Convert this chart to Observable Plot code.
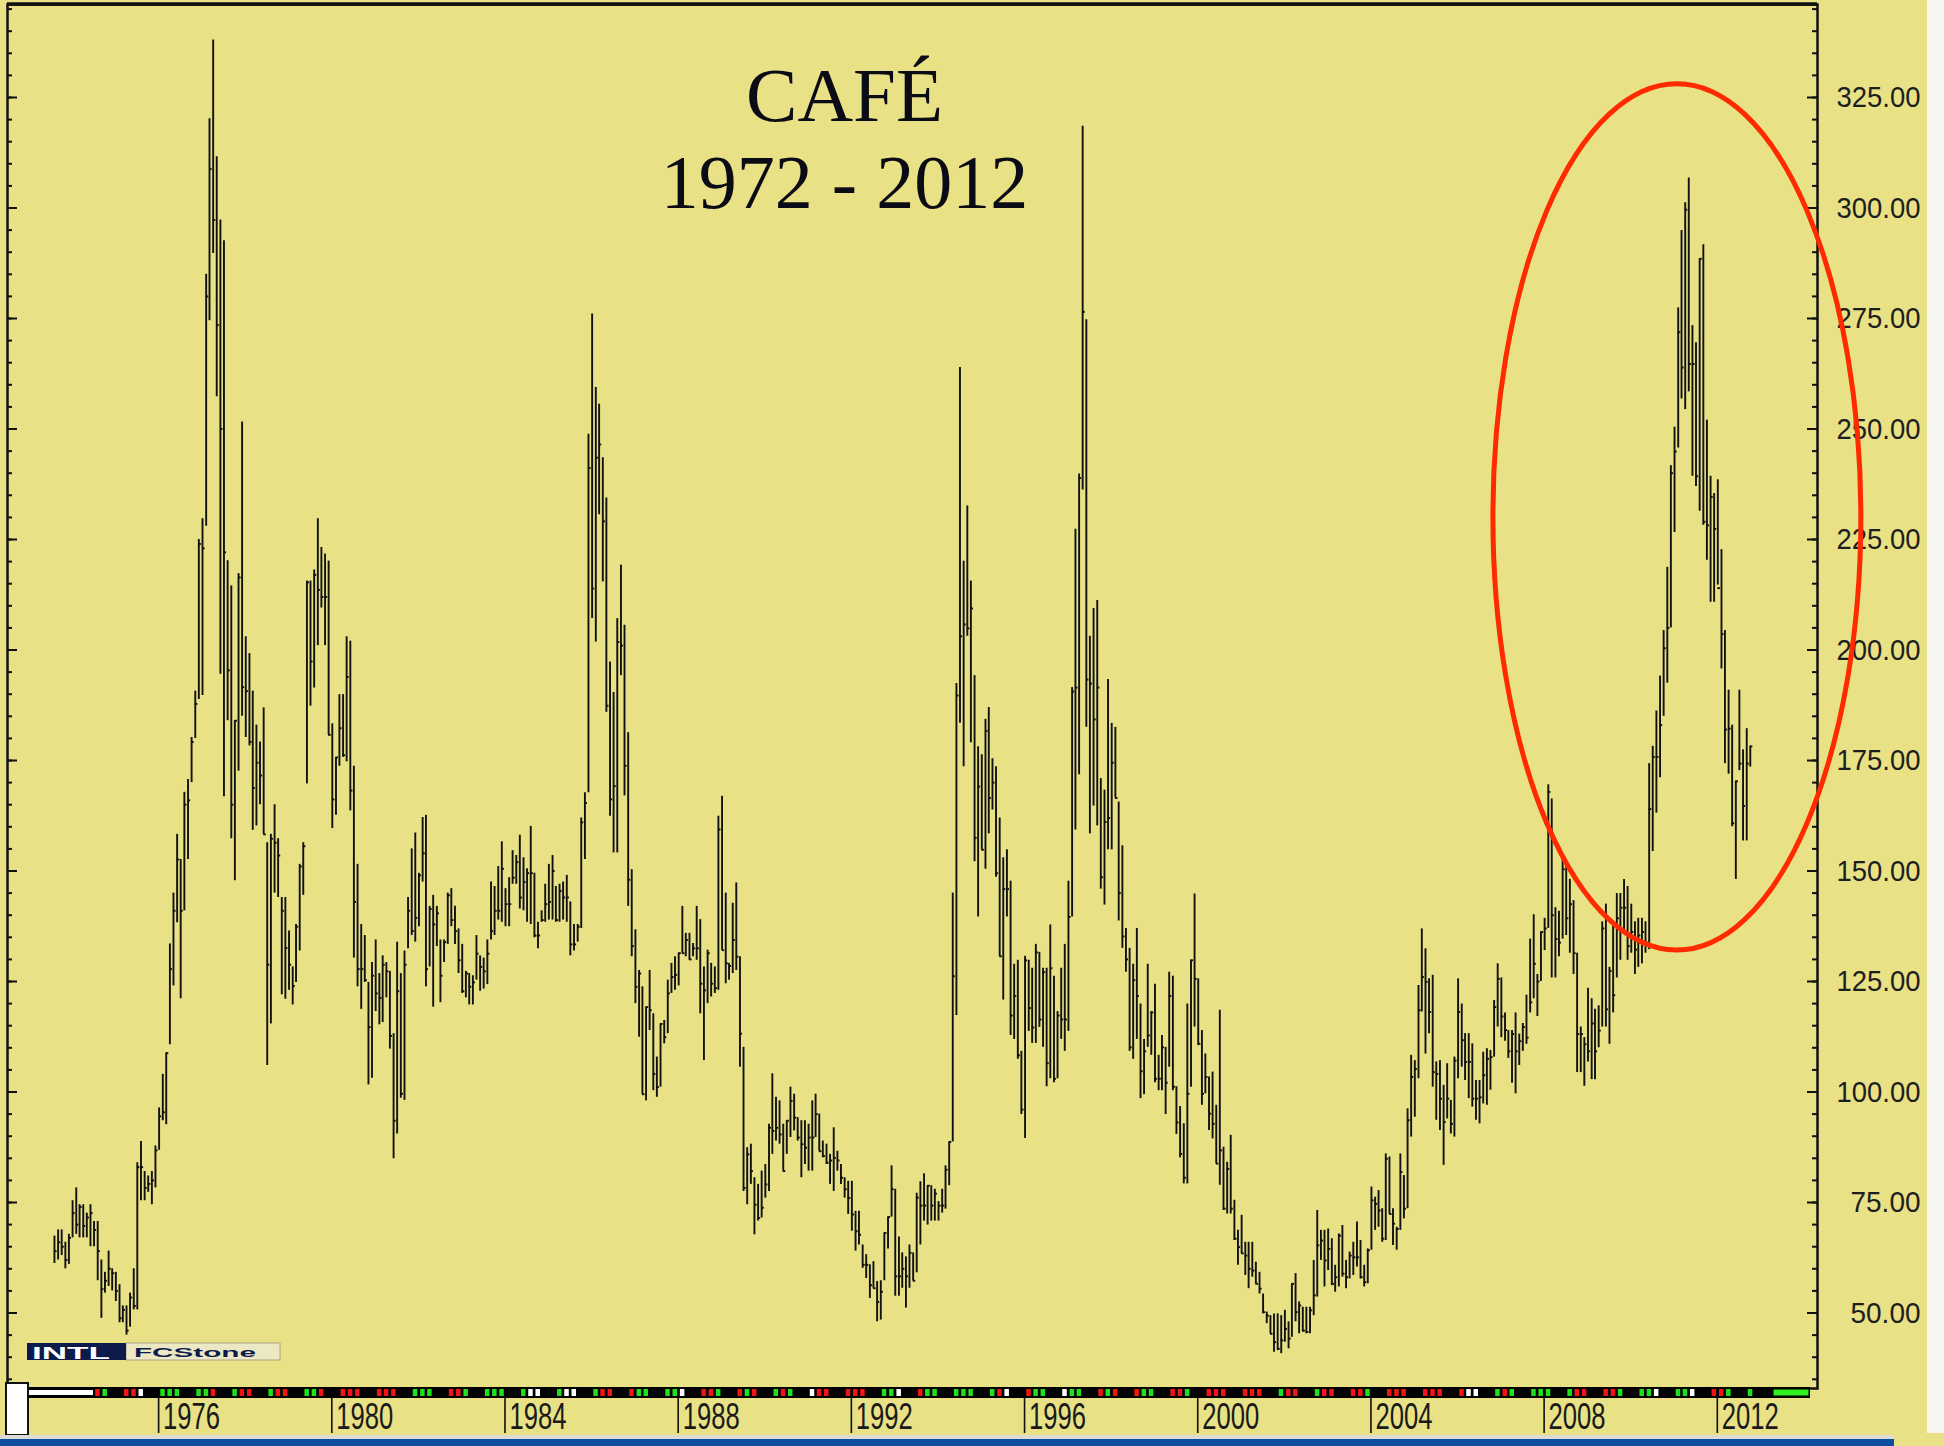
<!DOCTYPE html>
<html>
<head>
<meta charset="utf-8">
<script src="https://cdn.jsdelivr.net/npm/d3@7"></script>
<script src="https://cdn.jsdelivr.net/npm/@observablehq/plot@0.6"></script>
<style>
  html, body { margin: 0; padding: 0; background: #e8e185; }
  #chart { position: relative; width: 1944px; height: 1446px; overflow: hidden; }
</style>
</head>
<body>
<div id="chart"></div>
<script>
// ---- DATA (monthly coffee futures, US cents/lb) ----
const firstMonth = "1973-08";

const high = [
  67.4, 68.8, 68.8, 66, 67.8,
  75.4, 78.3, 74.5, 74.5, 72.6, 74.5, 70.7, 70.7, 62, 59.2, 64, 60,
  59.2, 56.4, 51.6, 51.6, 54.5, 60, 84, 88.8, 82, 81, 82, 87.8,
  96.4, 104, 108.8, 133.5, 145, 158.3, 152.6, 167.8, 170.7, 180.2, 190.7, 225,
  229.7, 285, 320.2, 338, 311.6, 297.3, 292.6, 220.2, 214.5, 184, 217.3, 251.6,
  203, 199.2, 190.7, 183, 179.2, 186.9, 156.4, 158.3, 165, 157.3, 144, 144,
  136.4, 128.3, 137.9, 151.5, 156.4, 215.6, 215.6, 218.1, 229.7, 223.2, 221.7, 220.1,
  183.3, 175.7, 189.9, 189.9, 203, 202, 173.7, 151.5, 137.9, 135.4, 124.8, 129.3,
  134.4, 126.8, 130.8, 129.3, 127.3, 113.2, 133.9, 126.8, 131.9, 144, 155, 158.6,
  149.5, 162.1, 162.6, 142, 144.5, 142, 134.4, 134.4, 145, 146, 142, 136.9,
  133.4, 127.3, 126.8, 126.3, 135.4, 130.8, 130.3, 134.4, 147.5, 146.5, 151, 156.6,
  146, 148.5, 154.6, 153.5, 158.1, 153, 150.5, 160.1, 149.5, 138.4, 141, 147,
  151.5, 153.5, 146.5, 147, 147.5, 149, 143, 137.9, 137.9, 162, 167.7, 248.8,
  276, 259.4, 255.6, 243.5, 234.4, 197.3, 190.4, 207.1, 219.2, 205.6, 181.3, 150.3,
  136.7, 127.5, 123.8, 119.2, 127.5, 117.7, 107.9, 115.4, 116.2, 125.3, 129.1, 130.6,
  131.4, 142, 135.9, 135.9, 133.6, 142, 139, 128.3, 132.1, 129.1, 128.3, 162.4,
  166.9, 145, 129.1, 142.7, 147.3, 130.6, 110.1, 87.4, 88.2, 80.6, 79.1, 82.1,
  83.6, 92.7, 104.1, 98.8, 98, 92.7, 93.5, 101.1, 99.5, 94.2, 93.5, 93.5,
  92.7, 98, 99.5, 95, 88.9, 88.2, 85.9, 91.9, 86.6, 83.6, 80.6, 79.8,
  79.8, 73, 73, 65.4, 63.2, 60.9, 61.6, 57.1, 57.3, 68.1, 71.7, 83.3,
  78, 67.2, 63.6, 62.7, 65.4, 63.6, 77.1, 79.7, 81.5, 78.8, 78.8, 78,
  75.2, 78, 83.3, 88.7, 145, 192.4, 263.9, 220.1, 232.6, 215.6, 194.2, 178.1,
  176.3, 184.3, 187, 175.4, 173.6, 162, 153, 154.8, 147.7, 128.9, 129.8, 109.2,
  130.7, 129.8, 128, 133.4, 131.6, 128, 128, 137.8, 126.2, 118.2, 128, 133.4,
  147.7, 191.5, 227.3, 239.8, 318.5, 274.7, 203.1, 209.4, 211.2, 170.9, 168.3, 193.3,
  183.4, 182.5, 165.6, 155.7, 137, 132.5, 128.9, 137, 119.9, 111.9, 128.9, 118.2,
  124.4, 108.3, 112.8, 110.1, 127.1, 126.2, 101.2, 96.7, 92.8, 119.9, 129.8, 144.8,
  125.6, 113.9, 108.6, 103.4, 104.5, 97, 118.5, 87.5, 84.1, 90.2, 75.5, 68.7,
  72.1, 66, 66, 66, 61.5, 59.2, 54.3, 50.2, 49.4, 49.8, 49.8, 49.4,
  50.6, 48, 56.6, 58.9, 52.5, 51.3, 51.3, 51.3, 61.9, 73.2, 68.7, 68.7,
  69, 66.8, 60.8, 67.9, 69.8, 61.9, 63.8, 66, 70.6, 66.4, 60.8, 64.5,
  78.5, 76.2, 77.7, 73.6, 86, 85.3, 73.6, 69.4, 86, 81.1, 96.2, 108.3,
  107.1, 124.1, 136.9, 132.4, 125.6, 126.4, 106.8, 107.1, 101.5, 106.4, 98.1, 107.9,
  125.6, 119.9, 113.2, 113.2, 110.9, 102.6, 102.6, 109, 109.8, 109.4, 120.7, 129,
  125.8, 117.9, 113.9, 113.9, 117.9, 113.1, 115.5, 121.9, 134.6, 140.1, 126.6, 136.2,
  139.3, 169.5, 166.3, 141.7, 140.9, 153.6, 152, 148.1, 143.3, 131.4, 114.7, 112.3,
  123.5, 121.1, 118.7, 119.5, 138.5, 142.5, 128.2, 137.7, 144.9, 144.9, 148.1, 146.5,
  142.5, 138.5, 139.3, 139.3, 138.5, 174.3, 178.2, 186.2, 194.1, 204.4, 218.7, 241.7,
  250.4, 277.4, 294.9, 301.2, 306.8, 273.4, 269.5, 288.5, 291.7, 252, 239.3, 235.4,
  238.5, 222.7, 204.4, 190.9, 183, 170.3, 190.9, 177.4, 182.2, 178.2
];

const low = [
  61.2, 62, 63, 60, 61,
  67, 67.8, 67, 67, 67, 65, 65, 57.3, 48.8, 54.5, 56, 55,
  52.6, 47.8, 47.8, 45, 46.8, 50.7, 50.7, 75.4, 75.4, 77.3, 74.5, 78.3,
  86.8, 93.5, 92.6, 110.7, 124, 138.3, 121.1, 141, 152.6, 170, 180, 188.8,
  189.7, 228, 274.5, 289.7, 257.3, 194.5, 166.8, 184, 157.3, 147.8, 172.6, 185,
  180.2, 178.3, 159.2, 160.2, 165, 158.3, 106, 115.4, 145, 144, 122, 121,
  123, 119.7, 124.8, 131.9, 144.5, 169.7, 187.3, 191.4, 201, 209.5, 201, 180.8,
  159.6, 162.6, 173.7, 175.7, 174.7, 163.6, 130.3, 123.8, 118.7, 124.8, 101.6, 103.1,
  118.2, 115.2, 115.7, 121.3, 109.7, 84.9, 90.5, 98.6, 98.1, 132.4, 135.4, 133.9,
  137.4, 147.5, 123.8, 128.3, 119.2, 132.9, 120.2, 129.3, 133.4, 137.4, 133.4, 126.8,
  122.3, 121.3, 119.7, 119.7, 125.3, 122.8, 123.3, 124.3, 134.4, 135.4, 138.9, 138.4,
  137.4, 137.4, 147, 147, 141.4, 141, 138.4, 137.9, 134.9, 132.4, 138.4, 138.4,
  138.9, 138.9, 138.4, 138.4, 138.9, 138.4, 130.8, 131.9, 133.9, 137, 152.6, 167.7,
  207.1, 201.8, 230.6, 215.4, 185.9, 162.4, 154.1, 154.1, 194.2, 167, 142, 130.6,
  120, 112.4, 99.5, 98, 113.9, 100.3, 98.8, 101.1, 110.9, 113.2, 122.3, 123,
  124, 131.4, 130.6, 129.8, 130.6, 129.8, 117.7, 107.1, 120, 121.5, 122.3, 123,
  132.1, 124.5, 125.3, 126.8, 127.5, 105.6, 77.5, 74.5, 79.1, 67.7, 70.8, 71.5,
  76, 77.5, 85.9, 88.9, 88.2, 82.1, 85.9, 89.7, 91.2, 88.9, 80.6, 83.6,
  82.1, 82.1, 89.7, 86.6, 85.1, 83.6, 79.1, 77.5, 82.1, 79.1, 76, 72.3,
  68.5, 64, 65.4, 60.1, 57.8, 53.3, 55.6, 48, 48.4, 57.3, 64.5, 71.7,
  53.8, 53.8, 55.6, 51.1, 55.6, 57.3, 59.1, 65.4, 70.8, 69.9, 70.8, 70.8,
  70.8, 72.6, 73.5, 78.8, 88.7, 117.3, 183.4, 173.6, 203.1, 179, 152.1, 139.6,
  154.8, 150.4, 158.4, 163.8, 148.6, 130.7, 120.8, 139.6, 112.8, 111.9, 107.4, 94.9,
  89.5, 113.7, 111, 111, 114.6, 110.1, 101.2, 103, 102.1, 103, 111.9, 109.2,
  113.7, 139.6, 159.3, 171.8, 236.2, 182.5, 158.4, 164.7, 160.2, 145.9, 142.3, 154.8,
  154.8, 166.5, 138.7, 132.5, 127.1, 109.2, 107.4, 111.9, 98.5, 99.4, 110.1, 108.3,
  102.1, 100.3, 100.3, 94.9, 105.6, 100.3, 90.4, 85.1, 79.2, 79.2, 101.1, 114.7,
  110.5, 97, 99.6, 91.3, 89.4, 83.8, 78.9, 73.2, 72.4, 72.4, 66.4, 60.8,
  63.4, 58.5, 55.5, 58.1, 56.6, 54.3, 49.8, 47.6, 45.3, 41.1, 41.5, 40.8,
  43.4, 41.9, 44.5, 48, 45.3, 45.7, 45.3, 45.3, 49.4, 53.6, 61.9, 55.9,
  59.6, 56.2, 54.7, 55.9, 58.1, 55.5, 57.7, 58.5, 60.4, 57.7, 55.9, 56.6,
  64.2, 68.7, 69.4, 66, 66.4, 72.4, 65.3, 64.2, 68.7, 71.3, 73.6, 89.8,
  94.3, 103, 118.1, 108.6, 113.2, 101.1, 93.6, 91.3, 83.4, 93.9, 90.5, 89.8,
  103, 105.6, 102.6, 98.5, 96.6, 93.6, 92.8, 97.3, 97, 100.4, 107.9, 114.7,
  112.3, 111.5, 107.6, 102, 99.6, 106, 109.2, 110.8, 117.9, 121.1, 117.1, 125,
  132, 137, 125.8, 125.8, 130.6, 134.6, 135.4, 131.4, 126.6, 104.4, 104.4, 101.3,
  106.8, 102.8, 102.8, 110, 114.7, 114.7, 110.8, 117.9, 125.8, 129.8, 136.2, 129.8,
  131.4, 126.6, 128.2, 129, 131.4, 132.2, 154.4, 163.1, 171.1, 185, 192.5, 205,
  226.6, 245.7, 256.8, 254.4, 258.4, 239.3, 237, 231.4, 228.2, 220.3, 210.8, 210.8,
  214.7, 195.7, 174.3, 171.9, 160, 148.1, 172.7, 156.8, 156.8, 173.5
];

const close = [
  64, 66, 65, 62, 67,
  72.6, 70, 74, 69.7, 71.6, 72.6, 68.8, 64, 55.4, 57.3, 60, 59,
  55, 48.8, 50.7, 46, 53.5, 51.6, 83, 83, 78.3, 79.2, 80, 86.8,
  94.5, 95.4, 108.8, 127.8, 141, 152.6, 141, 165, 166, 179.2, 187.8, 224,
  223, 280, 308.8, 297.3, 273.5, 250, 222.1, 195.4, 165, 184, 216.4, 191.6,
  190.7, 179.2, 168.8, 174.5, 171.6, 158.3, 128.8, 157.3, 156.4, 153.5, 141, 132.6,
  128.8, 124, 137.4, 151, 155.6, 215.3, 197.4, 217, 213.6, 212, 212, 180.8,
  166.2, 175.7, 182.3, 176.2, 193.9, 168.2, 143, 127.8, 127.8, 125.3, 114.7, 126.3,
  122.3, 121.3, 128.8, 127.3, 112.7, 93.5, 122.8, 99.6, 128.8, 141, 136.4, 139.4,
  149, 154, 127.8, 141.4, 137.9, 140.4, 126.3, 133.9, 144.5, 138.9, 136.4, 129.8,
  122.8, 126.8, 123.8, 124.8, 131.3, 128.3, 127.3, 131.3, 136.4, 141, 141, 150.5,
  142.5, 142.5, 148.5, 152, 144, 147.5, 149.5, 149.5, 135.4, 135.4, 138.9, 142.5,
  143, 150, 138.9, 145.5, 144, 144, 133.4, 133.4, 137.4, 161, 165.4, 241.2,
  213.9, 243.5, 246.5, 229.1, 187.4, 166.2, 169.2, 201.8, 201, 173.8, 148, 133,
  123.8, 126.8, 99.5, 119.2, 118.5, 104.1, 101.1, 115.4, 112.4, 122.3, 126, 126.5,
  131.4, 131.4, 134.4, 130, 132.5, 132.5, 124.5, 123, 131.4, 124.5, 123.5, 159.4,
  132.1, 129.1, 128.5, 134.4, 130.6, 113.2, 78.3, 85.9, 82.1, 74.5, 71.5, 73.8,
  79.1, 91.9, 91.2, 91.9, 90.4, 82.1, 93.5, 98, 94.2, 89.7, 88.2, 87.4,
  89.7, 89.7, 95, 86.6, 85.5, 84, 84.5, 85.1, 84.5, 80.6, 78, 76,
  72.3, 68.5, 67.7, 60.9, 60.9, 56.3, 55.6, 52.5, 54.8, 68.1, 71.7, 78,
  58.3, 58.3, 60, 58.3, 63.6, 57.3, 76.1, 74.3, 74.3, 78.8, 74.3, 77,
  74.3, 74.3, 82.4, 88.7, 126.2, 189.7, 203.1, 205.8, 204.9, 209.4, 157.5, 169.1,
  154.8, 181.7, 166.5, 170, 149.5, 130.7, 145.9, 145.9, 117.3, 121.7, 108.3, 96,
  129.8, 119, 114.6, 131.6, 116.4, 127.1, 106.5, 128, 103, 117.3, 116.4, 116.4,
  139.6, 190.6, 191.5, 238.9, 276.5, 193.3, 192.4, 184.3, 191.5, 148.6, 161.1, 162,
  174.5, 166.5, 145, 135.2, 130, 110.1, 125.3, 121.7, 104.7, 109.2, 112.8, 118,
  103, 103, 110.1, 102.1, 121.7, 101.2, 93.1, 86, 80.6, 99.6, 129.8, 125.6,
  110.9, 99.6, 103.4, 95.1, 92.8, 83.8, 86.8, 73.6, 82.6, 73.6, 66.8, 64.9,
  63.5, 63, 60, 59.6, 56.6, 55.5, 50.2, 49.4, 45.3, 43.4, 41.9, 43.8,
  46.4, 44.2, 56.6, 50.2, 51.7, 46, 45.7, 50.6, 54, 65.3, 66.4, 61.9,
  64.5, 56.6, 58.1, 67.5, 58.9, 58.1, 63, 62.6, 62.6, 58.1, 57, 64.2,
  75.5, 74.7, 73.2, 66.8, 84.9, 72.4, 70.2, 69, 81.9, 73.6, 93.6, 103.4,
  105.2, 118.5, 126, 124.9, 118.1, 104.5, 104.1, 98.5, 93.2, 98.5, 92.8, 107.1,
  118.1, 111.7, 106.8, 106.8, 98.5, 98.5, 98.8, 103.8, 107.5, 107.9, 119.2, 125.6,
  117.1, 114, 109.2, 113.1, 109.2, 111.5, 114.7, 112.3, 120.3, 129, 125, 136.2,
  137, 167.9, 140, 134.6, 133.8, 150.4, 139.3, 142.5, 131.4, 113.1, 113.1, 110.8,
  109.2, 115.5, 109.2, 113.9, 137, 118.7, 127.4, 121.9, 139.3, 141.7, 141.7, 133,
  136.2, 132.2, 135.4, 136.2, 133.8, 164, 175.8, 175.8, 183, 200.4, 205, 240,
  244.9, 271.9, 263.9, 299.6, 264.7, 264.7, 239.3, 288.5, 229, 228.2, 234.6, 227.4,
  214, 203.6, 182, 182.2, 160.8, 170.3, 174.3, 164.7, 174.3, 178.2
];

const yMajorTicks = [50, 75, 100, 125, 150, 175, 200, 225, 250, 275, 300, 325];
const yMinorTicks = [35, 40, 45, 50, 55, 60, 65, 70, 75, 80, 85, 90, 95, 100, 105, 110, 115, 120, 125, 130, 135, 140, 145, 150, 155, 160, 165, 170, 175, 180, 185, 190, 195, 200, 205, 210, 215, 220, 225, 230, 235, 240, 245, 250, 255, 260, 265, 270, 275, 280, 285, 290, 295, 300, 305, 310, 315, 320, 325, 330, 335, 340, 345];
const yearTicks = [1976, 1980, 1984, 1988, 1992, 1996, 2000, 2004, 2008, 2012];
const titleLines = ["CAFÉ", "1972 - 2012"];
const logoTexts = ["INTL", "FCStone"];
const highlight = { center: "2011-01-25", value: 230, rxYears: 4.25, ryValue: 98 };

// ---- BUILD ----
const W = 1944, H = 1446;
const M = { left: 7, right: 127, top: 4, bottom: 58 };
const innerW = W - M.left - M.right;
const n = Math.min(high.length, low.length, close.length);
const start = d3.utcParse("%Y-%m")(firstMonth);
const bars = d3.range(n).map(i => ({
  date: d3.utcMonth.offset(start, i), high: high[i], low: low[i], close: close[i],
  dir: i === 0 ? 0 : Math.sign(close[i] - close[i - 1])
}));

const ink = "#111111";
const sans = "'Liberation Sans', Arial, Helvetica, sans-serif";
const serif = "'Palatino Linotype', 'Book Antiqua', Palatino, 'Liberation Serif', 'DejaVu Serif', serif";

const plot = Plot.plot({
  width: W, height: H,
  marginLeft: M.left, marginRight: M.right, marginTop: M.top, marginBottom: M.bottom,
  x: { type: "utc", domain: [new Date(Date.UTC(1972, 6, 1)), new Date(Date.UTC(2014, 3, 21))], axis: null },
  y: { domain: [32.92, 346.04], axis: null },
  style: { background: "#e8e185", overflow: "visible" },
  marks: [
    Plot.ruleX(bars, { x: "date", y1: "low", y2: "high", stroke: ink, strokeWidth: 1.9 }),
    Plot.ruleY(bars, { y: "close", x1: "date", x2: d => d3.utcDay.offset(d.date, 22), stroke: ink, strokeWidth: 1.9 }),
    // right-edge ticks pointing inward
    Plot.tickY(yMinorTicks, { y: d => d, insetLeft: innerW - 5, stroke: ink, strokeWidth: 2 }),
    Plot.tickY(yMajorTicks, { y: d => d, insetLeft: innerW - 10, stroke: ink, strokeWidth: 2 }),
    // left-edge ticks pointing inward
    Plot.tickY(yMinorTicks, { y: d => d, insetRight: innerW - 5, stroke: ink, strokeWidth: 2 }),
    Plot.tickY(yMajorTicks, { y: d => d, insetRight: innerW - 10, stroke: ink, strokeWidth: 2 }),
    Plot.frame({ stroke: ink, strokeWidth: 2.5 }),
    // right axis labels
    Plot.text(yMajorTicks, {
      y: d => d, text: d => d.toFixed(2), frameAnchor: "right", dx: 103, textAnchor: "end",
      fontSize: 30, fontFamily: sans, fill: "#1e1e1e"
    }),
    // year labels
    Plot.text(yearTicks, {
      x: d => new Date(Date.UTC(d, 0, 1)), text: d => String(d), frameAnchor: "bottom",
      dy: 40, dx: 4, textAnchor: "start", lineAnchor: "bottom",
      fontSize: 36, fontFamily: sans, fill: "#1a1a1a"
    }),
    // title
    Plot.text([titleLines[0]], {
      text: d => d, frameAnchor: "top-left", dx: 837, dy: 116, lineAnchor: "bottom",
      textAnchor: "middle", fontSize: 77, fontFamily: serif, fill: "#0b0b16"
    }),
    Plot.text([titleLines[1]], {
      text: d => d, frameAnchor: "top-left", dx: 837, dy: 203, lineAnchor: "bottom",
      textAnchor: "middle", fontSize: 76, fontFamily: serif, fill: "#0b0b16"
    })
  ]
});

document.getElementById("chart").append(plot);

const svg = d3.select(plot);
const xs = v => plot.scale("x").apply(v);
const ys = v => plot.scale("y").apply(v);

// condensed look for axis labels
svg.selectAll("text").each(function () {
  const t = this.textContent;
  if (/^\d+\.00$/.test(t)) {
    d3.select(this).attr("textLength", 14 * t.length).attr("lengthAdjust", "spacingAndGlyphs");
  } else if (/^(19|20)\d\d$/.test(t)) {
    d3.select(this).attr("textLength", 57).attr("lengthAdjust", "spacingAndGlyphs");
  }
});

const deco = svg.append("g").attr("text-anchor", "start");
const stripTop = H - M.bottom;

// thicker top edge of the frame
deco.append("line").attr("x1", M.left).attr("x2", W - M.right).attr("y1", M.top).attr("y2", M.top)
  .attr("stroke", ink).attr("stroke-width", 3.5);

// date strip
deco.append("rect").attr("x", 27).attr("y", stripTop - 1).attr("width", 1810 - 27).attr("height", 11).attr("fill", "#000");
deco.append("rect").attr("x", 29).attr("y", stripTop + 2).attr("width", 64).attr("height", 5).attr("fill", "#fff");
bars.forEach((d, i) => {
  const x = xs(d.date);
  if ((i % 10 === 0 || i % 10 === 2 || i % 10 === 4) && x > 97 && x < 1768) {
    deco.append("rect").attr("x", x - 2).attr("y", stripTop + 1).attr("width", 4.5).attr("height", 7)
      .attr("fill", d.dir > 0 ? "#1fe01f" : d.dir < 0 ? "#f01414" : "#ffffff");
  }
});
deco.append("rect").attr("x", 1773).attr("y", stripTop + 1).attr("width", 36).attr("height", 7)
  .attr("fill", "#2ef01e").attr("stroke", "#000").attr("stroke-width", 1);

// year tick lines
yearTicks.forEach(yr => {
  const x = xs(new Date(Date.UTC(yr, 0, 1)));
  deco.append("line").attr("x1", x).attr("x2", x).attr("y1", stripTop + 10).attr("y2", stripTop + 45)
    .attr("stroke", ink).attr("stroke-width", 1.6);
});

// scroll thumb, bottom bars, right strip
deco.append("rect").attr("x", 6).attr("y", stripTop - 5).attr("width", 22).attr("height", 52)
  .attr("fill", "#fff").attr("stroke", "#111").attr("stroke-width", 2);
deco.append("rect").attr("x", 0).attr("y", 1435).attr("width", 1894).attr("height", 4).attr("fill", "#dcdcd4");
deco.append("rect").attr("x", 0).attr("y", 1439).attr("width", 1894).attr("height", 7).attr("fill", "#0b4ea2");
deco.append("rect").attr("x", 1927).attr("y", 0).attr("width", 17).attr("height", 1433).attr("fill", "#f6f6f2");

// logo
const lg = deco.append("g");
lg.append("rect").attr("x", 126).attr("y", 1343).attr("width", 154).attr("height", 17)
  .attr("fill", "#ece8c4").attr("stroke", "#a9a48a").attr("stroke-width", 1);
lg.append("rect").attr("x", 27).attr("y", 1343).attr("width", 99).attr("height", 17).attr("fill", "#0d1b4c");
lg.append("text").attr("x", 32).attr("y", 1358.5).attr("text-anchor", "start")
  .attr("font-family", sans).attr("font-weight", "bold").attr("font-size", 17).attr("fill", "#ffffff")
  .attr("textLength", 78).attr("lengthAdjust", "spacingAndGlyphs").text(logoTexts[0]);
lg.append("text").attr("x", 134).attr("y", 1356.5).attr("text-anchor", "start")
  .attr("font-family", sans).attr("font-weight", "bold").attr("font-size", 13).attr("fill", "#0d1b4c")
  .attr("textLength", 122).attr("lengthAdjust", "spacingAndGlyphs").text(logoTexts[1]);

// red highlight ellipse (annotation in data units)
const c = new Date(highlight.center + "T00:00:00Z");
const cx = xs(c), cy = ys(highlight.value);
const rx = xs(d3.utcDay.offset(c, Math.round(highlight.rxYears * 365.25))) - cx;
const ry = ys(highlight.value - highlight.ryValue) - cy;
deco.append("ellipse").attr("cx", cx).attr("cy", cy).attr("rx", rx).attr("ry", ry)
  .attr("fill", "none").attr("stroke", "#ff2a00").attr("stroke-width", 5);
</script>
</body>
</html>
